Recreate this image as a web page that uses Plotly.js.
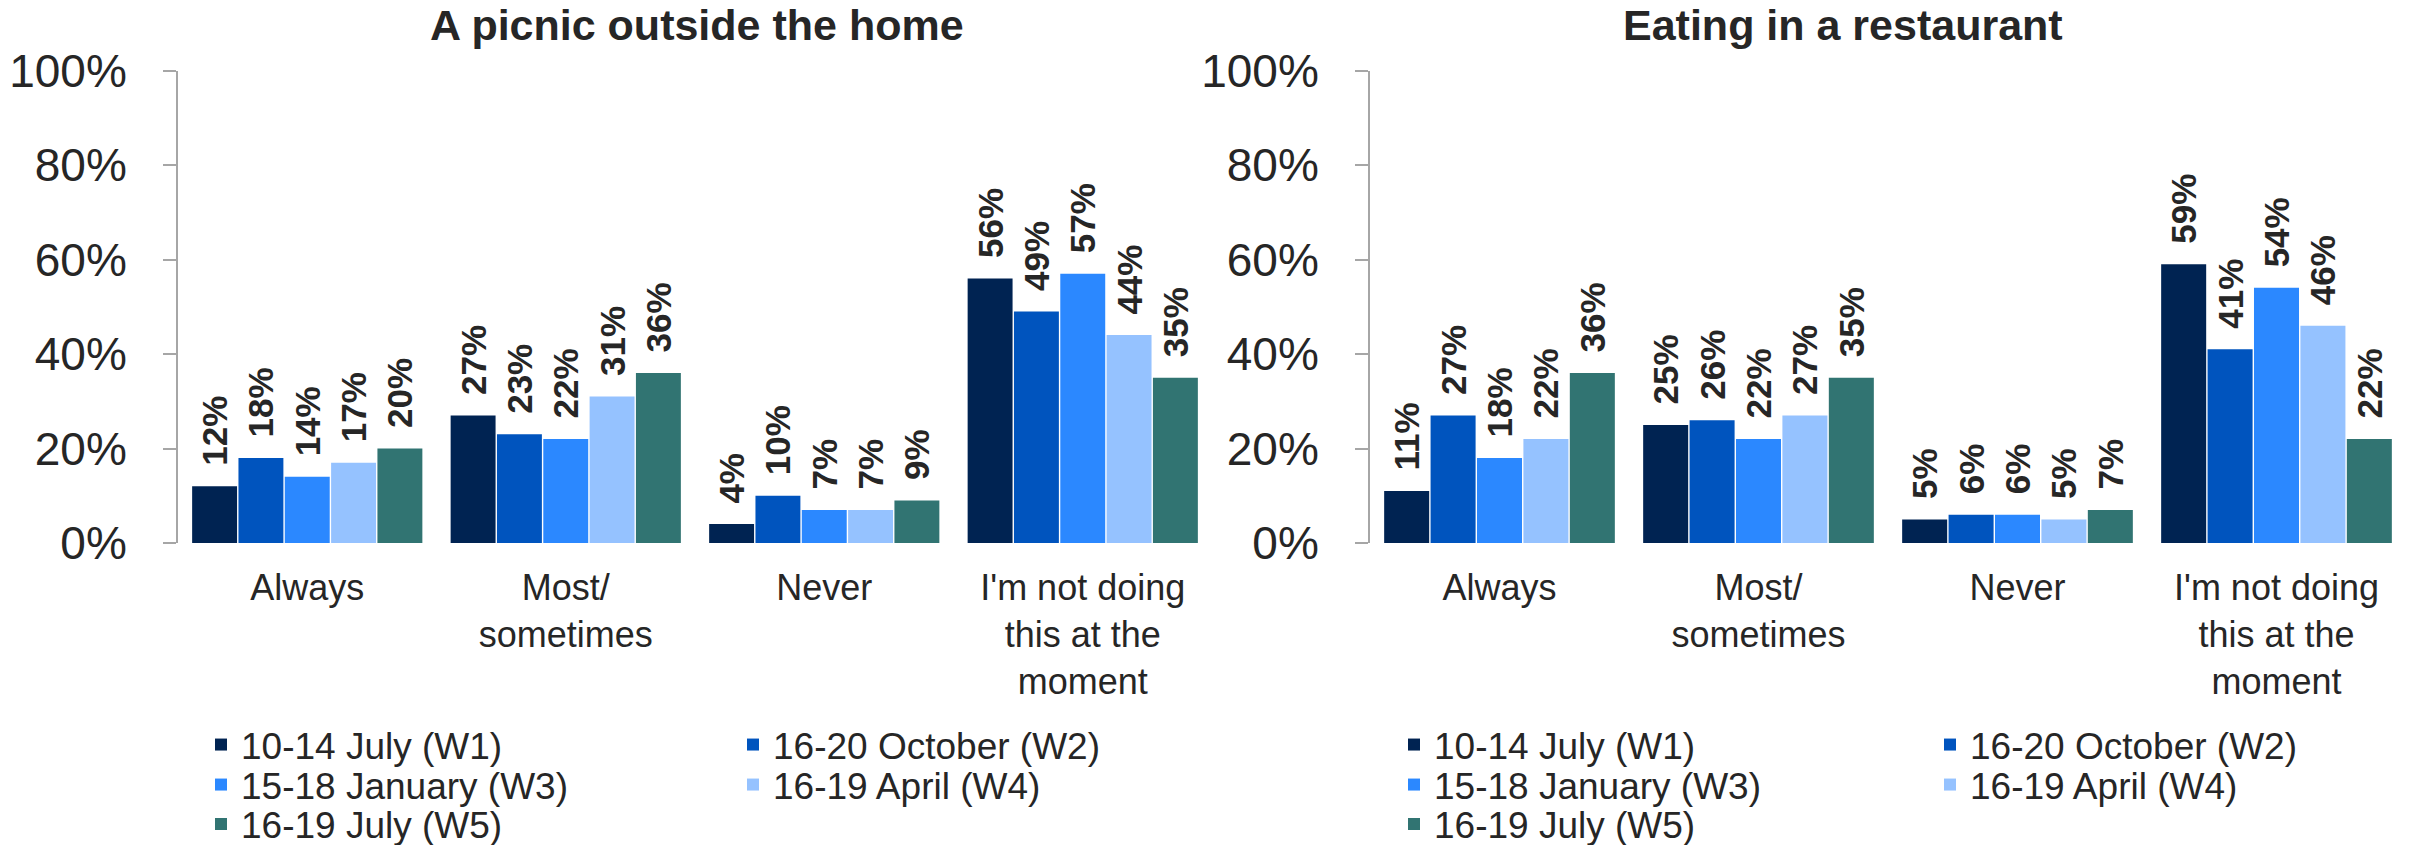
<!DOCTYPE html>
<html>
<head>
<meta charset="utf-8">
<script src="https://cdn.plot.ly/plotly-3.0.1.min.js"></script>
<style>html,body{margin:0;padding:0;background:#fff;}#chart{width:2410px;height:845px;}</style>
</head>
<body>
<div id="chart"></div>
<script>
// ---- data ----
const categories = ['Always', 'Most/<br>sometimes', 'Never', "I'm not doing<br>this at the<br>moment"];
const waveNames = ['10-14 July (W1)', '16-20 October (W2)', '15-18 January (W3)', '16-19 April (W4)', '16-19 July (W5)'];
const waveColors = ['#002352', '#0054BE', '#2B88FF', '#95C2FF', '#317472'];
const chartTitles = ['A picnic outside the home', 'Eating in a restaurant'];
const yTickValues = [0, 20, 40, 60, 80, 100];
const yTickLabels = ['0%', '20%', '40%', '60%', '80%', '100%'];

// A picnic outside the home
const picnicW1 = [12, 27, 4, 56];
const picnicW2 = [18, 23, 10, 49];
const picnicW3 = [14, 22, 7, 57];
const picnicW4 = [17, 31, 7, 44];
const picnicW5 = [20, 36, 9, 35];

// Eating in a restaurant
const restaurantW1 = [11, 25, 5, 59];
const restaurantW2 = [27, 26, 6, 41];
const restaurantW3 = [18, 22, 6, 54];
const restaurantW4 = [22, 27, 5, 46];
const restaurantW5 = [36, 35, 7, 22];

const panels = [
  [picnicW1, picnicW2, picnicW3, picnicW4, picnicW5],
  [restaurantW1, restaurantW2, restaurantW3, restaurantW4, restaurantW5]
];

// ---- styling / layout ----
const W = 2410, H = 845;
const textColor = '#262626';
const font = 'Liberation Sans, Arial, sans-serif';
const xDomains = [[178 / W, 1212 / W], [1370 / W, 2406 / W]];
const yDomain = [1 - 543 / H, 1 - 70.5 / H];
// legend positions (px): [x of legend origin, y of row centre]
const legendCols = [[201, 733], [1394, 1930]];
const legendRows = [745, 785, 824.5];
const legendSlot = [[0, 0], [1, 0], [0, 1], [1, 1], [0, 2]]; // [col,row] per wave
const titleX = [697, 1843];

const traces = [];
const layout = {
  width: W, height: H,
  margin: {l: 0, r: 0, t: 0, b: 0, autoexpand: false},
  paper_bgcolor: '#fff', plot_bgcolor: '#fff',
  barmode: 'group', bargap: 0.104, bargroupgap: 0.03,
  font: {family: font, color: textColor},
  showlegend: true,
  annotations: []
};

panels.forEach((series, p) => {
  const xa = p === 0 ? 'x' : 'x2';
  const ya = p === 0 ? 'y' : 'y2';
  series.forEach((vals, i) => {
    const legendId = 'legend' + (p * 5 + i === 0 ? '' : (p * 5 + i + 1));
    traces.push({
      type: 'bar', x: categories, y: vals, name: waveNames[i],
      xaxis: xa, yaxis: ya, legend: legendId,
      marker: {color: waveColors[i], line: {width: 0}},
      text: vals.map(v => v + '%'),
      texttemplate: '\u2002%{text}',
      textposition: 'outside', textangle: -90, constraintext: 'none', cliponaxis: false,
      textfont: {family: font, size: 35, color: textColor, weight: 'bold'},
      hoverinfo: 'skip'
    });
    const [c, r] = legendSlot[i];
    layout[legendId] = {
      x: legendCols[p][c] / W, xanchor: 'left',
      y: 1 - legendRows[r] / H, yanchor: 'middle',
      bgcolor: 'rgba(0,0,0,0)', borderwidth: 0,
      font: {family: font, size: 37, color: textColor},
      orientation: 'v'
    };
  });
  const axKeyX = p === 0 ? 'xaxis' : 'xaxis2';
  const axKeyY = p === 0 ? 'yaxis' : 'yaxis2';
  layout[axKeyX] = {
    domain: xDomains[p], anchor: ya, type: 'category',
    range: [-0.5, 3.5], showline: false, showgrid: false, zeroline: false,
    ticks: '', tickfont: {family: font, size: 36, color: textColor},
    ticklabelstandoff: 20, fixedrange: true
  };
  layout[axKeyY] = {
    domain: yDomain, anchor: xa, range: [0, 100],
    tickmode: 'array', tickvals: yTickValues, ticktext: yTickLabels,
    showline: true, linecolor: '#a6a6a6', linewidth: 2,
    ticks: 'outside', ticklen: 13, tickwidth: 2, tickcolor: '#a6a6a6',
    tickfont: {family: font, size: 46, color: textColor},
    ticklabelstandoff: 27,
    showgrid: false, zeroline: false, fixedrange: true
  };
  layout.annotations.push({
    text: chartTitles[p], xref: 'paper', yref: 'paper',
    x: titleX[p] / W, xanchor: 'center', y: 1 - 25 / H, yanchor: 'middle',
    showarrow: false,
    font: {family: font, size: 43, color: textColor, weight: 'bold'}
  });
});

Plotly.newPlot('chart', traces, layout, {staticPlot: true, displayModeBar: false});
</script>
</body>
</html>
